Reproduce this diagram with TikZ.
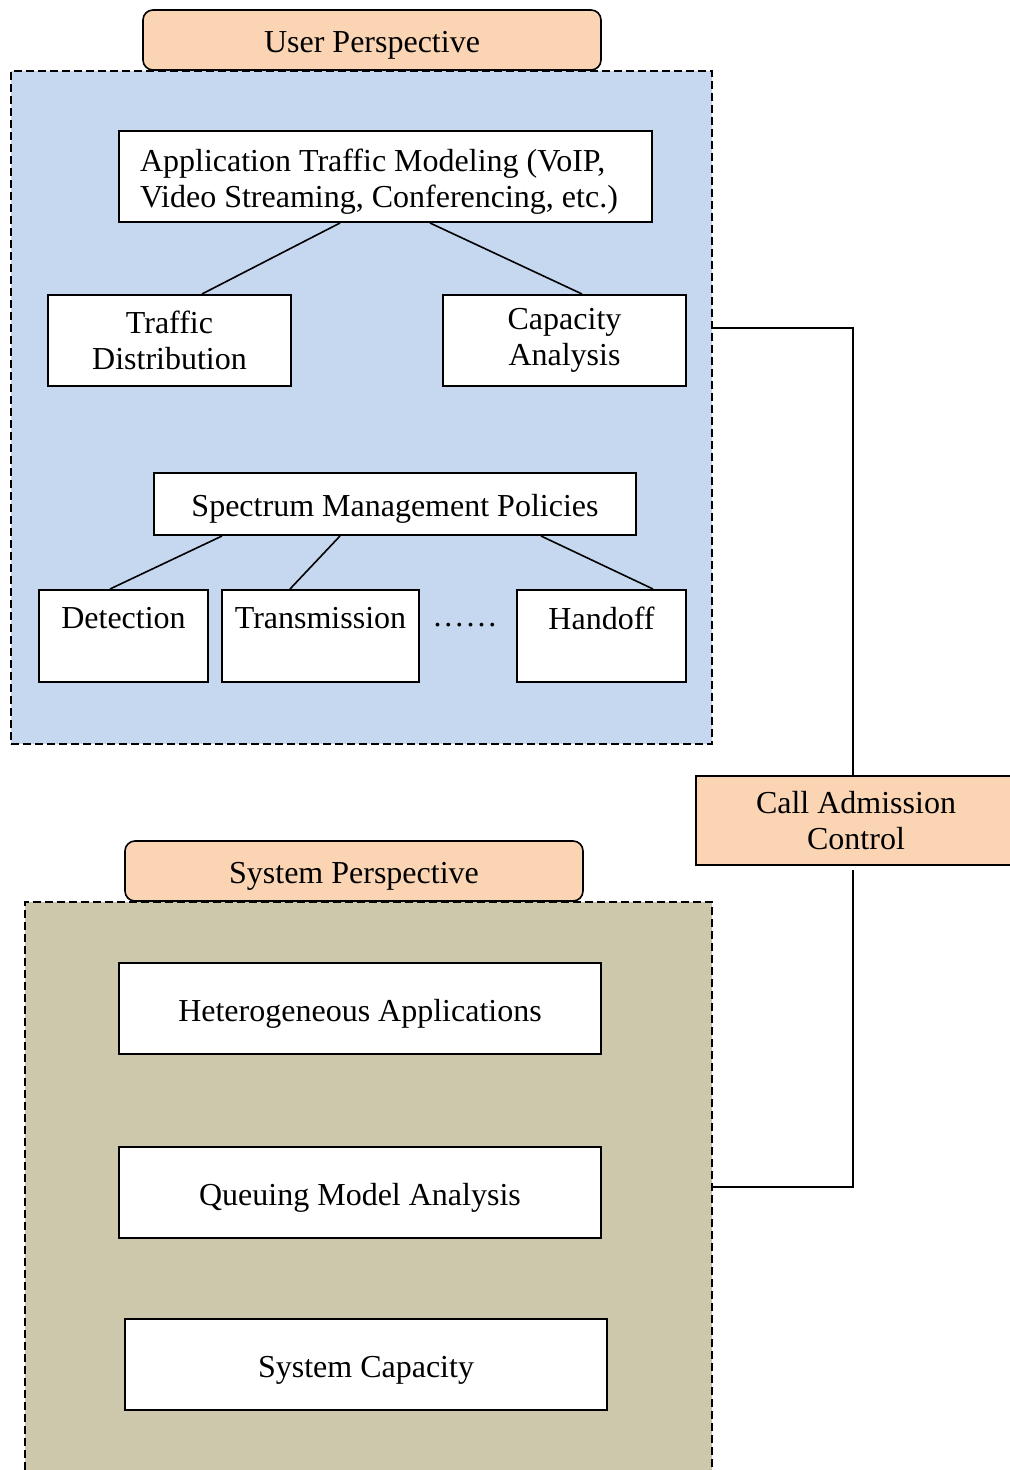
\documentclass[tikz,border=0pt]{standalone}
\usepackage{fontspec}
\setmainfont{Liberation Serif}

\definecolor{tabpeach}{HTML}{FBD4B4}
\definecolor{userblue}{HTML}{C6D8EF}
\definecolor{systan}{HTML}{CDC7AC}

\begin{document}
\begin{tikzpicture}[x=0.5pt,y=-0.5pt,font=\fontsize{16}{18}\selectfont,
    blk/.style={draw,fill=white,line width=1pt,align=center,inner sep=0pt,
      execute at begin node={\rule{0pt}{16pt}}},
    tab/.style={draw,fill=tabpeach,rounded corners=5pt,line width=0.8pt,
      minimum width=229pt,minimum height=30pt,execute at begin node={\rule{0pt}{16pt}}},
    area/.style={draw,dash pattern=on 4pt off 2pt,line width=0.75pt,inner sep=0pt},
    link/.style={line width=0.8pt}]
      \clip (0,0) rectangle (1010,1470);
      % user side
      \node[area,fill=userblue,minimum width=350.5pt,minimum height=336.5pt] (userarea) at (361.5,407.5) {};
      \node[tab] (usertab) at (372,40) {User Perspective};
      \node[blk,minimum height=45.5pt,align=flush left,text width=245.5pt,inner xsep=10.5pt] (appmodel) at (385.5,176.5)
        {Application Traffic Modeling (VoIP,\\Video Streaming, Conferencing, etc.)};
      \node[blk,minimum width=121.5pt,minimum height=45.5pt] (trafdist) at (169.5,340.5) {Traffic\\Distribution};
      \node[blk,minimum width=121.5pt,minimum height=45.5pt] (capacity) at (564.5,340.5) {Capacity\\Analysis};
      \node[blk,minimum width=241pt,minimum height=31pt] (spectrum) at (395,504) {Spectrum Management Policies};
      \node[blk,minimum width=84.5pt,minimum height=46pt] (detect) at (123.5,636) {Detection\\\mbox{}};
      \node[blk,minimum width=98.5pt,minimum height=46pt] (transmit) at (320.5,636) {Transmission\\\mbox{}};
      \node[blk,minimum width=84.5pt,minimum height=46pt] (handoff) at (601.5,636) {Handoff\\\mbox{}};
      \node (dots) at (465,625) {.\kern1.5pt.\kern1.5pt.\kern1.5pt.\kern1.5pt.\kern1.5pt.};
      \draw[link] ([xshift=-22.75pt]appmodel.south) -- ([xshift=16.25pt]trafdist.north);
      \draw[link] ([xshift=22.25pt]appmodel.south) -- ([xshift=8.75pt]capacity.north);
      \draw[link] ([xshift=-86.5pt]spectrum.south) -- ([xshift=-6.75pt]detect.north);
      \draw[link] ([xshift=-27.5pt]spectrum.south) -- ([xshift=-15.25pt]transmit.north);
      \draw[link] ([xshift=73pt]spectrum.south) -- ([xshift=25.75pt]handoff.north);
      % system side
      \node[area,fill=systan,minimum width=343.5pt,minimum height=299pt] (sysarea) at (368.5,1201) {};
      \node[tab] (systab) at (354,871) {System Perspective};
      \node[blk,minimum width=241pt,minimum height=45.5pt] (hetero) at (360,1008.5) {Heterogeneous Applications};
      \node[blk,minimum width=241pt,minimum height=45.5pt] (queuing) at (360,1192.5) {Queuing Model Analysis};
      \node[blk,minimum width=241pt,minimum height=45.5pt] (syscap) at (366,1364.5) {System Capacity};
      % admission control between the two
      \node[blk,fill=tabpeach,minimum width=160pt,minimum height=44.5pt] (cac) at (856,820.5) {Call Admission\\Control};
      \coordinate (ujoin) at (userarea.east |- 0,328);
      \coordinate (sjoin) at (sysarea.east |- 0,1187);
      \draw[link] (ujoin) -| ([xshift=-1.5pt]cac.north);
      \draw[link] ([xshift=-1.5pt,yshift=-2pt]cac.south) |- (sjoin);
    \end{tikzpicture}
\end{document}
